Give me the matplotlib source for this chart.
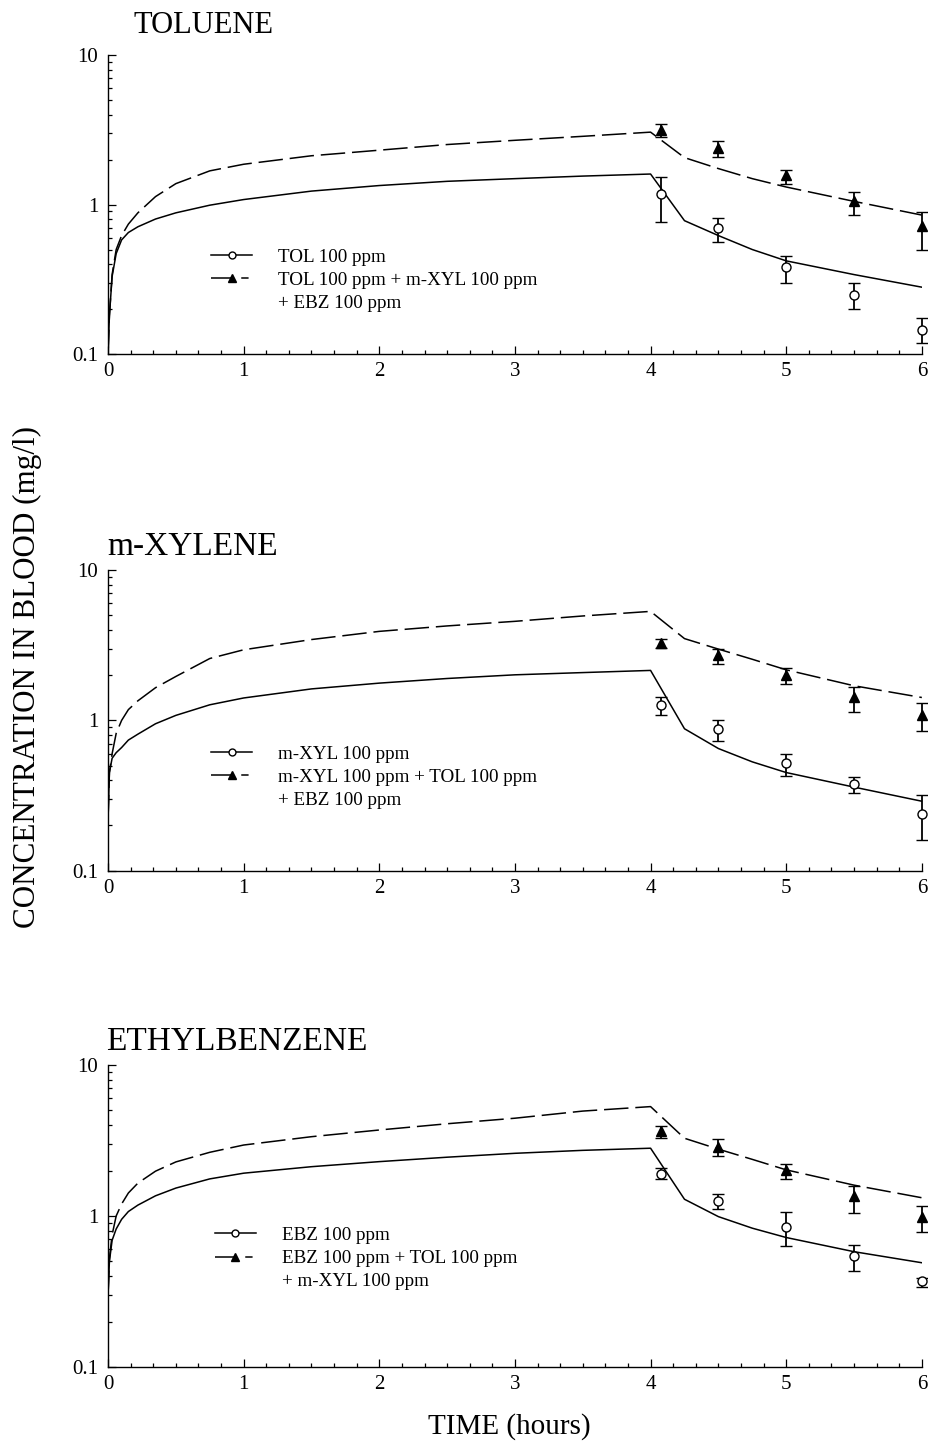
"""Blood concentration of TOL, m-XYL and EBZ, single vs. mixed exposure."""

import matplotlib

matplotlib.use("Agg")
import matplotlib.pyplot as plt
from matplotlib.lines import Line2D
from matplotlib.ticker import FixedLocator, MultipleLocator, LogLocator, NullFormatter

plt.rcParams["font.family"] = ["Liberation Serif", "DejaVu Serif"]

# model curves (hours)
t_model = [0, 0.01, 0.03, 0.06, 0.1, 0.15, 0.22, 0.35, 0.5, 0.75, 1, 1.5, 2,
           2.5, 3, 3.5, 4, 4.25, 4.5, 4.75, 5, 5.5, 6]

tol_single = [0.1, 0.18, 0.33, 0.47, 0.58, 0.65, 0.71, 0.80, 0.88, 0.99, 1.08, 1.23,
              1.34, 1.43, 1.49, 1.55, 1.60, 0.78, 0.62, 0.50, 0.42, 0.34, 0.28]
tol_mix = [0.1, 0.18, 0.34, 0.50, 0.62, 0.74, 0.88, 1.13, 1.38, 1.68, 1.86, 2.12,
           2.31, 2.52, 2.69, 2.86, 3.05, 2.06, 1.74, 1.49, 1.31, 1.05, 0.85]
xyl_single = [0.22, 0.45, 0.56, 0.61, 0.66, 0.74, 0.81, 0.95, 1.08, 1.27, 1.41, 1.62,
              1.77, 1.90, 2.01, 2.08, 2.15, 0.88, 0.65, 0.53, 0.45, 0.36, 0.29]
xyl_mix = [0.22, 0.45, 0.60, 0.82, 1.0, 1.18, 1.35, 1.65, 1.96, 2.58, 2.95, 3.45,
           3.91, 4.25, 4.56, 4.95, 5.31, 3.5, 2.98, 2.55, 2.17, 1.70, 1.42]
ebz_single = [0.30, 0.50, 0.69, 0.82, 0.95, 1.07, 1.18, 1.36, 1.53, 1.76, 1.92, 2.12,
              2.29, 2.45, 2.60, 2.72, 2.81, 1.29, 0.99, 0.83, 0.72, 0.58, 0.49]
ebz_mix = [0.30, 0.52, 0.75, 1.0, 1.2, 1.42, 1.65, 1.98, 2.28, 2.64, 2.95, 3.35,
           3.71, 4.08, 4.44, 4.95, 5.3, 3.27, 2.77, 2.37, 2.02, 1.60, 1.32]

# measured points: mean, low, high
t_obs = [4.08, 4.5, 5, 5.5, 6]

tol_obs_single = [1.17, 0.70, 0.38, 0.25, 0.144]
tol_lo_single = [0.77, 0.56, 0.30, 0.20, 0.118]
tol_hi_single = [1.52, 0.81, 0.45, 0.30, 0.173]
tol_obs_mix = [3.14, 2.38, 1.57, 1.05, 0.72]
tol_lo_mix = [2.82, 2.07, 1.38, 0.85, 0.50]
tol_hi_mix = [3.44, 2.65, 1.71, 1.21, 0.89]

xyl_obs_single = [1.27, 0.88, 0.52, 0.38, 0.24]
xyl_lo_single = [1.09, 0.73, 0.43, 0.33, 0.16]
xyl_hi_single = [1.43, 1.0, 0.60, 0.42, 0.32]
xyl_obs_mix = [3.27, 2.74, 2.01, 1.44, 1.09]
xyl_lo_mix = [3.03, 2.38, 1.75, 1.13, 0.85]
xyl_hi_mix = [3.5, 2.98, 2.23, 1.66, 1.31]

ebz_obs_single = [1.90, 1.26, 0.85, 0.54, 0.37]
ebz_lo_single = [1.75, 1.11, 0.63, 0.43, 0.34]
ebz_hi_single = [2.07, 1.39, 1.06, 0.64, 0.39]
ebz_obs_mix = [3.66, 2.85, 2.02, 1.36, 0.99]
ebz_lo_mix = [3.27, 2.5, 1.75, 1.04, 0.78]
ebz_hi_mix = [3.95, 3.22, 2.21, 1.59, 1.16]

panels = [
    dict(title="TOLUENE", single=tol_single, mix=tol_mix,
         obs_s=(tol_obs_single, tol_lo_single, tol_hi_single),
         obs_m=(tol_obs_mix, tol_lo_mix, tol_hi_mix),
         labels=["TOL 100 ppm", "TOL 100 ppm + m-XYL 100 ppm", "+ EBZ 100 ppm"],
         rect=[0.1163, 0.755, 0.876, 0.2069], title_xy=(0.031, 1.074), title_size=22,
         leg_xy=(0.127, 0.352)),
    dict(title="m-XYLENE", single=xyl_single, mix=xyl_mix,
         obs_s=(xyl_obs_single, xyl_lo_single, xyl_hi_single),
         obs_m=(xyl_obs_mix, xyl_lo_mix, xyl_hi_mix),
         labels=["m-XYL 100 ppm", "m-XYL 100 ppm + TOL 100 ppm", "+ EBZ 100 ppm"],
         rect=[0.1163, 0.3974, 0.876, 0.2081], title_xy=(-0.001, 1.05), title_size=24,
         leg_xy=(0.127, 0.417)),
    dict(title="ETHYLBENZENE", single=ebz_single, mix=ebz_mix,
         obs_s=(ebz_obs_single, ebz_lo_single, ebz_hi_single),
         obs_m=(ebz_obs_mix, ebz_lo_mix, ebz_hi_mix),
         labels=["EBZ 100 ppm", "EBZ 100 ppm + TOL 100 ppm", "+ m-XYL 100 ppm"],
         rect=[0.1163, 0.054, 0.876, 0.209], title_xy=(-0.002, 1.05), title_size=24,
         leg_xy=(0.131, 0.464)),
]

fig = plt.figure(figsize=(9.29, 14.45), dpi=100)
lw = 1.1
dash = (0, (16, 4.5))

for p in panels:
    ax = fig.add_axes(p["rect"])
    ax.plot(t_model, p["single"], color="black", lw=lw)
    ax.plot(t_model, p["mix"], color="black", lw=lw, linestyle=dash)

    for (mean, lo, hi), marker, face in [(p["obs_s"], "o", "white"), (p["obs_m"], "^", "black")]:
        yerr = [[m - l for m, l in zip(mean, lo)], [h - m for m, h in zip(mean, hi)]]
        ax.errorbar(t_obs, mean, yerr=yerr, fmt=marker, mfc=face, mec="black",
                    ms=6.5 if marker == "o" else 7, mew=1.0, ecolor="black",
                    elinewidth=1.3, capsize=4.5, capthick=1.3, clip_on=False, zorder=3)

    ax.set_yscale("log")
    ax.set_ylim(0.1, 10)
    ax.set_xlim(0, 6)
    ax.yaxis.set_major_locator(FixedLocator([0.1, 1, 10]))
    ax.set_yticklabels(["0.1", "1", "10"])
    ax.yaxis.set_minor_locator(LogLocator(base=10, subs=range(2, 10)))
    ax.yaxis.set_minor_formatter(NullFormatter())
    ax.xaxis.set_major_locator(MultipleLocator(1))
    ax.xaxis.set_minor_locator(MultipleLocator(1 / 6))
    for s in ["top", "right"]:
        ax.spines[s].set_visible(False)
    for s in ["left", "bottom"]:
        ax.spines[s].set_linewidth(1.0)
    ax.tick_params(which="both", direction="in", width=0.9, labelsize=15)
    ax.tick_params(which="major", length=6)
    ax.tick_params(which="minor", length=3.2)
    ax.tick_params(axis="y", pad=7)
    ax.tick_params(axis="x", pad=6)

    ax.text(p["title_xy"][0], p["title_xy"][1], p["title"], transform=ax.transAxes,
            fontsize=p["title_size"], va="baseline", ha="left")

    handles = [
        Line2D([], [], color="black", lw=lw, marker="o", mfc="white", mec="black", ms=5),
        Line2D([], [], color="black", lw=lw, marker="^", mfc="black", mec="black", ms=6,
               linestyle=(0, (14.4, 5.4, 4.8, 20))),
        Line2D([], [], linestyle="none"),
    ]
    ax.legend(handles, p["labels"], loc="upper left", bbox_to_anchor=p["leg_xy"],
              frameon=False, fontsize=13.7, handlelength=2.15, handletextpad=1.37,
              borderpad=0, borderaxespad=0, labelspacing=0.3, numpoints=1)

fig.text(0.030, 0.5315, "CONCENTRATION IN BLOOD (mg/l)", rotation=90, fontsize=22.4,
         ha="center", va="center")
fig.text(0.548, 0.0125, "TIME (hours)", fontsize=21, ha="center", va="center")

fig.savefig("out.png", dpi=100)
plt.close(fig)
